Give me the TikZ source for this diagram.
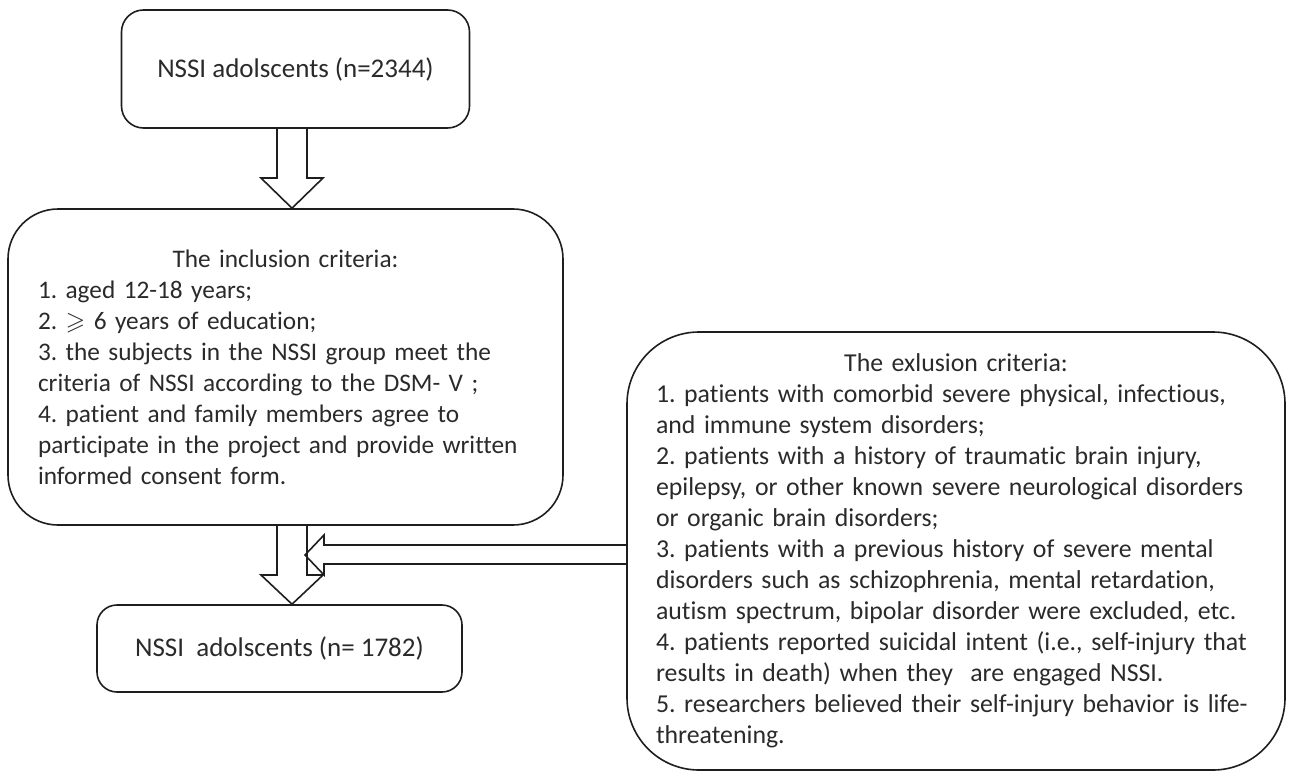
\documentclass[tikz,border=0pt]{standalone}
\usepackage{fontspec}
\usepackage{amssymb}
\setmainfont{Carlito}[Ligatures={NoCommon}]
\definecolor{ink}{HTML}{1E1E1E}
\definecolor{txt}{HTML}{2A2A2A}
\newcommand\critfont{\fontsize{25.3}{31}\selectfont\frenchspacing\hyphenpenalty=10000\relax\exhyphenpenalty=10000\relax}
\newcommand\exfont{\fontsize{25.8}{31}\selectfont\frenchspacing\hyphenpenalty=10000\relax\exhyphenpenalty=10000\relax}
\newcommand\boxfont{\fontsize{27}{31.3}\selectfont\frenchspacing}
\begin{document}
\begin{tikzpicture}[x=1pt,y=-1pt,
  box/.style={draw=ink, line width=1.6pt, inner sep=0pt, text=txt, font=\boxfont},
  crit/.style={box, align=left, font=\critfont},
  blockarrow/.style={draw=ink, line width=1.6pt, line join=miter}]
\useasboundingbox (0,0) rectangle (1290,773);

\node[box, rounded corners=22pt, minimum width=348pt, minimum height=118pt] (n1) at (295.5,69)
  {NSSI adolscents (n=2344)};

\node[crit, rounded corners=50pt, minimum width=555pt, minimum height=316pt,
  text width=495pt] (inc) at (285.5,367)
  {\makebox[495pt]{The inclusion criteria:}\\
   \mbox{1. aged 12-18 years;}\\
   \mbox{2. $\geqslant$ 6 years of education;}\\
   \mbox{3. the subjects in the NSSI group meet the}\\
   \mbox{criteria of NSSI according to the DSM- V ;}\\
   \mbox{4. patient and family members agree to}\\
   \mbox{participate in the project and provide written}\\
   \mbox{informed consent form.}};

\node[box, rounded corners=20pt, minimum width=365pt, minimum height=87pt] (n3) at (279.5,648.5)
  {NSSI\ \ adolscents (n= 1782)};

\node[crit, font=\exfont, rounded corners=72pt, minimum width=658pt, minimum height=438pt,
  text width=600pt] (exc) at (956,551)
  {\makebox[600pt]{The exlusion criteria:}\\
   \mbox{1. patients with comorbid severe physical, infectious,}\\
   \mbox{and immune system disorders;}\\
   \mbox{2. patients with a history of traumatic brain injury,}\\
   \mbox{epilepsy, or other known severe neurological disorders}\\
   \mbox{or organic brain disorders;}\\
   \mbox{3. patients with a previous history of severe mental}\\
   \mbox{disorders such as schizophrenia, mental retardation,}\\
   \mbox{autism spectrum, bipolar disorder were excluded, etc.}\\
   \mbox{4. patients reported suicidal intent (i.e., self-injury that}\\
   \mbox{results in death) when they\ \ are engaged NSSI.}\\
   \mbox{5. researchers believed their self-injury behavior is life-}\\
   \mbox{threatening.}};

% block arrow n1 -> inc
\draw[blockarrow] (277,0 |- n1.south) -- (277,178) -- (261,178) -- (292,0 |- inc.north)
  -- (323,178) -- (307,178) -- (307,0 |- n1.south);

% block arrow inc -> n3
\draw[blockarrow] (277,0 |- inc.south) -- (277,575) -- (261,575) -- (292,0 |- n3.north)
  -- (323,575) -- (307,575) -- (307,0 |- inc.south);

% block arrow exc -> (between)
\coordinate (tip) at (305,555);
\draw[blockarrow] (exc.west |- 0,545) -- (324,545) -- (324,535) -- (tip)
  -- (324,575) -- (324,564) -- (exc.west |- 0,564);
\end{tikzpicture}
\end{document}
